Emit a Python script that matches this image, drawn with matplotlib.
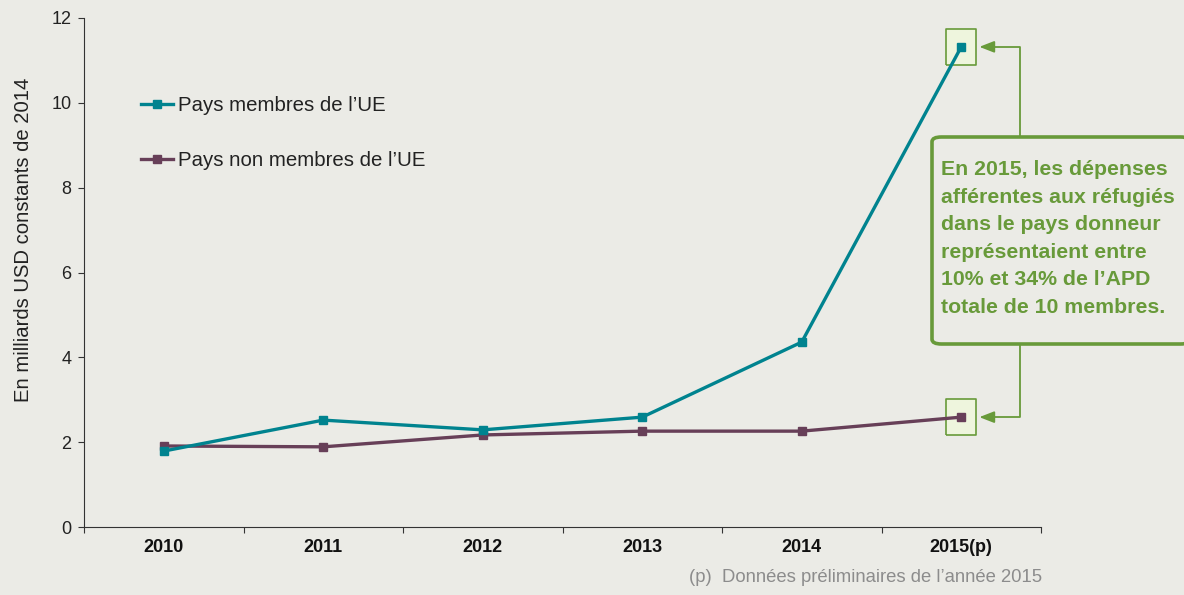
import matplotlib
matplotlib.use("Agg")
import matplotlib.pyplot as plt
from matplotlib.patches import FancyBboxPatch

years = ["2010", "2011", "2012", "2013", "2014", "2015(p)"]
eu_members = [1.79, 2.52, 2.29, 2.59, 4.36, 11.32]
non_eu_members = [1.91, 1.89, 2.17, 2.26, 2.26, 2.59]
yticks = [0, 2, 4, 6, 8, 10, 12]
series_labels = ["Pays membres de l\u2019UE", "Pays non membres de l\u2019UE"]
ylabel = "En milliards USD constants de 2014"
footnote = "(p)  Donn\u00e9es pr\u00e9liminaires de l\u2019ann\u00e9e 2015"
callout = ("En 2015, les d\u00e9penses\naff\u00e9rentes aux r\u00e9fugi\u00e9s"
           "\ndans le pays donneur\nrepr\u00e9sentaient entre\n10% et 34% de l\u2019APD\ntotale de 10 membres.")

BG = "#EBEBE6"
TEAL = "#00838F"
PURPLE = "#673F58"
GREEN = "#689A3A"
LIGHTGREEN = "#EEF5DD"

plt.rcParams["font.family"] = ["Liberation Sans", "DejaVu Sans"]

W, H = 1184, 595
fig = plt.figure(figsize=(W / 100, H / 100), dpi=100, facecolor=BG)

def fp(x, y):
    return (x / W, 1 - y / H)

ax = fig.add_axes([84 / W, 1 - 527 / H, (1041 - 84) / W, (527 - 18) / H])
ax.set_facecolor(BG)

x = list(range(len(years)))

rect_marker = [(-0.84, -1), (0.84, -1), (0.84, 1), (-0.84, 1), (-0.84, -1)]
for vals in (eu_members, non_eu_members):
    ax.plot([5], [vals[5]], marker=rect_marker, markersize=26.5, markerfacecolor=LIGHTGREEN,
            markeredgecolor=GREEN, markeredgewidth=1.2, linestyle="none", zorder=2, clip_on=False)

ax.plot(x, eu_members, color=TEAL, lw=2.4, marker="s", markersize=6.3, zorder=4,
        label=series_labels[0], clip_on=False)
ax.plot(x, non_eu_members, color=PURPLE, lw=2.4, marker="s", markersize=6.3, zorder=3,
        label=series_labels[1], clip_on=False)

ax.set_xlim(-0.5, 5.5)
ax.set_ylim(0, 12)
ax.set_yticks(yticks)
ax.set_yticklabels([str(v) for v in yticks], fontsize=13, color="#222222")
ax.tick_params(axis="y", length=4, width=0.8, pad=5, color="#333333")

ax.set_xticks([i - 0.5 for i in range(len(years) + 1)])
ax.set_xticklabels([""] * (len(years) + 1))
ax.set_xticks(x, minor=True)
ax.set_xticklabels(years, minor=True, fontsize=13, fontweight="bold", color="#111111")
ax.tick_params(axis="x", which="major", length=4, width=0.8, color="#333333")
ax.tick_params(axis="x", which="minor", length=0, pad=9)

for s in ["top", "right"]:
    ax.spines[s].set_visible(False)
for s in ["left", "bottom"]:
    ax.spines[s].set_color("#333333")
    ax.spines[s].set_linewidth(0.8)

ax.set_ylabel(ylabel, fontsize=14.6, color="#222222")
ax.yaxis.set_label_coords((33 - 84) / (1041 - 84), (527 - 240) / (527 - 18))

leg = fig.legend(loc="upper left", bbox_to_anchor=fp(141, 96),
                 frameon=False, fontsize=14.7, borderpad=0, borderaxespad=0,
                 handlelength=1.57, handletextpad=0.25, labelspacing=1.78, markerscale=0.9)
for t in leg.get_texts():
    t.set_color("#222222")

# callout box
bx0, by0, bx1, by1 = 932, 137, 1190, 344
box = FancyBboxPatch(fp(bx0, by1), (bx1 - bx0) / W, (by1 - by0) / H,
                     boxstyle="round,pad=0,rounding_size=0.008",
                     transform=fig.transFigure, facecolor=BG, edgecolor=GREEN,
                     linewidth=2.6, zorder=5, clip_on=False)
fig.patches.append(box)
fig.text(*fp(941, 160), callout, fontsize=15.3, fontweight="bold", color=GREEN,
         va="top", ha="left", linespacing=1.57, zorder=6)

# arrows
arrow_kw = dict(arrowstyle="-|>,head_length=0.9,head_width=0.35", color=GREEN, lw=1.3,
                shrinkA=0, shrinkB=13)
ax.annotate("", xy=(5, eu_members[5]), xycoords="data",
            xytext=fp(1020, by0), textcoords="figure fraction",
            arrowprops=dict(connectionstyle="angle,angleA=90,angleB=0,rad=0", **arrow_kw),
            annotation_clip=False)
ax.annotate("", xy=(5, non_eu_members[5]), xycoords="data",
            xytext=fp(1020, by1), textcoords="figure fraction",
            arrowprops=dict(connectionstyle="angle,angleA=-90,angleB=0,rad=0", **arrow_kw),
            annotation_clip=False)

fig.text(*fp(1042, 578), footnote, fontsize=13.3, color="#8C8C8C", ha="right", va="center")

fig.savefig("out.png", dpi=100, facecolor=BG)
